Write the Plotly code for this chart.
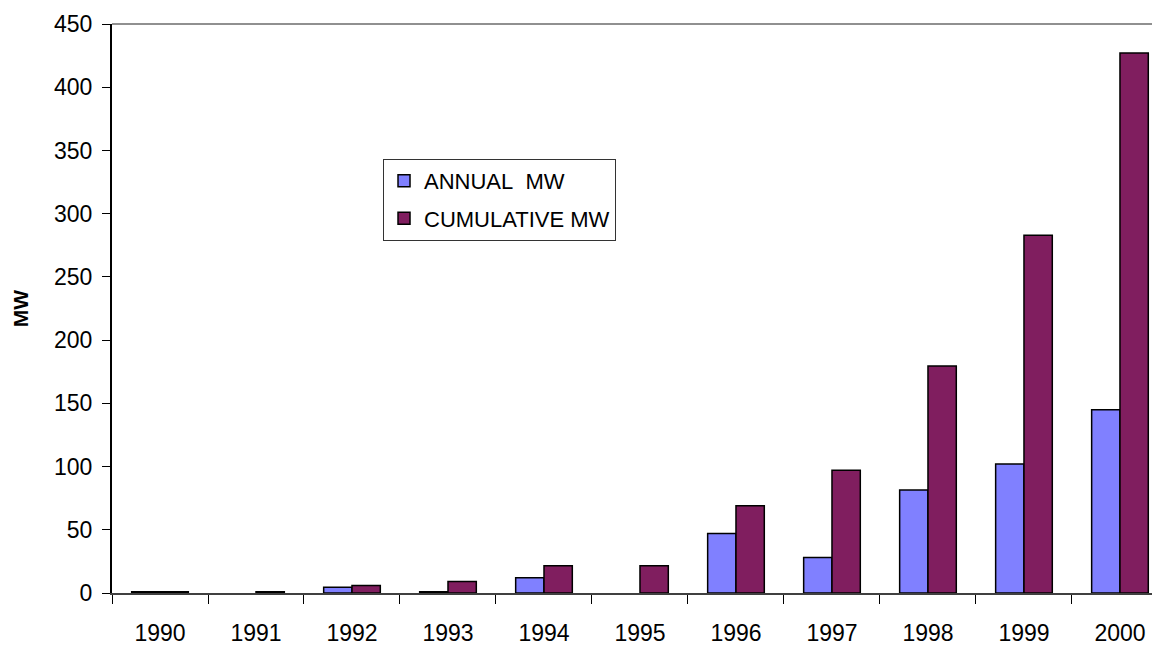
import plotly.graph_objects as go

years = ["1990", "1991", "1992", "1993", "1994", "1995", "1996", "1997", "1998", "1999", "2000"]
# no annual bar drawn for 1991 and 1995
annual_mw = [1, None, 4.5, 1, 12, None, 47, 28, 81.5, 102, 145]
cumulative_mw = [1, 1, 6, 9, 21.5, 21.5, 69, 97, 179.5, 283, 427]

fig = go.Figure()
fig.add_bar(
    name="ANNUAL\u00a0 MW", x=years, y=annual_mw, legendgroup="a",
    marker=dict(color="#8080FF", line=dict(color="black", width=1.5)),
)
fig.add_bar(
    name="CUMULATIVE MW", x=years, y=cumulative_mw, legendgroup="c",
    marker=dict(color="#801E5F", line=dict(color="black", width=1.5)),
)

# thin grey frame line along the top of the plot area
fig.add_shape(type="line", xref="paper", yref="paper", x0=0, x1=1, y0=1, y1=1,
              line=dict(color="#909090", width=2))

# page body adds an 8px margin, so the figure is sized 8px smaller
fig.update_layout(
    width=1152, height=638,
    margin=dict(l=104, r=0, t=16, b=53),
    paper_bgcolor="white", plot_bgcolor="white",
    font=dict(family="Liberation Sans, Arial, sans-serif", color="black", size=23),
    barmode="group", bargap=0.41, bargroupgap=0,
    showlegend=True,
    legend=dict(
        x=0.2586, y=0.763, xanchor="left", yanchor="top",
        bgcolor="white", bordercolor="#333333", borderwidth=1,
        font=dict(size=22), itemwidth=30, tracegroupgap=6,
    ),
    xaxis=dict(
        type="category", range=[-0.5, 10.417],
        showline=True, linecolor="#404040", linewidth=2,
        ticks="outside", tickson="boundaries", ticklen=9, tickcolor="black", tickwidth=1,
        ticklabelstandoff=18, showgrid=False, zeroline=False,
        tickfont=dict(size=23),
    ),
    yaxis=dict(
        range=[0, 450], dtick=50,
        showline=True, linecolor="black", linewidth=2,
        ticks="outside", ticklen=8, tickcolor="black", tickwidth=1,
        ticklabelstandoff=5, showgrid=False, zeroline=False,
        tickfont=dict(size=23),
        title=dict(text="<b>MW</b>", font=dict(size=21), standoff=20),
    ),
)

fig.write_html("out.html")
